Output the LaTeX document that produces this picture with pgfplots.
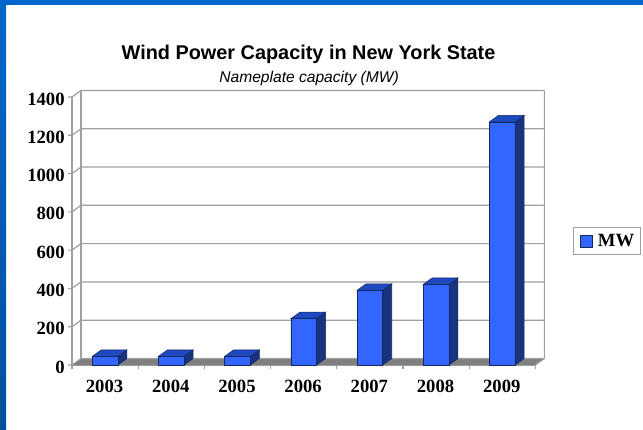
\documentclass[border=0pt]{standalone}
\usepackage{pgfplots}
\usepackage{pgfplotstable}
\usepackage{fontspec}
\setmainfont{Liberation Serif}
\newfontfamily\arialf{Liberation Sans}
\pgfplotsset{compat=1.18}
\definecolor{front}{HTML}{3366FF}
\definecolor{sidef}{HTML}{1A337F}
\definecolor{topf}{HTML}{1F49BF}
\definecolor{edgec}{HTML}{14285F}
\definecolor{wall}{HTML}{A0A0A0}
\definecolor{floorc}{HTML}{808080}
\definecolor{frametop}{HTML}{0066CC}
\definecolor{framebot}{HTML}{00509F}
\pgfplotstableread{
idx year mw
0 2003 45
1 2004 45
2 2005 45
3 2006 242
4 2007 390
5 2008 421
6 2009 1270
}\mwdata
% xl xr xld xrd v vd
\newcommand\faces[6]{%
  \addplot[forget plot,fill=sidef,draw=edgec,line width=.4pt] coordinates {(#2,0) (#2,#5) (#4,#6) (#4,34)} -- cycle;
  \addplot[forget plot,fill=topf,draw=edgec,line width=.4pt] coordinates {(#1,#5) (#3,#6) (#4,#6) (#2,#5)} -- cycle;
}
\begin{document}
\begin{tikzpicture}
\useasboundingbox (0,0) rectangle (482.25pt,321.75pt);
\fill[white] (0,0) rectangle (482.25pt,321.75pt);
\fill[frametop] (0,318pt) rectangle (482.25pt,321.75pt);
\shade[top color=frametop,bottom color=framebot] (0,0) rectangle (4.5pt,321.75pt);
\begin{axis}[
  at={(54pt,48pt)},anchor=south west,
  scale only axis,width=347.55pt,height=201pt,
  xmin=-0.5,xmax=6.5,ymin=0,ymax=1400,
  clip=false,
  axis x line*=bottom,axis y line*=left,
  axis line style={wall,line width=.9pt,-},
  tick align=outside,
  xtick={0,1,2,3,4,5,6},
  xticklabels={2003,2004,2005,2006,2007,2008,2009},
  minor xtick={-0.5,0.5,1.5,2.5,3.5,4.5,5.5,6.5},
  major tick length=0pt,
  minor tick length=3pt,
  ytick={0,200,400,600,800,1000,1200,1400},
  ytick style={draw=none},
  minor tick style={wall,line width=.8pt},
  /pgf/number format/assume math mode=true,
  /pgf/number format/1000 sep={},
  tick label style={font=\fontsize{14}{14}\selectfont\bfseries},
  xticklabel style={yshift=-7.5pt,xshift=-.4pt},
  yticklabel style={xshift=-2pt,yshift=-1.5pt},
  legend style={at={(1.0805,0.4627)},anchor=west,draw=wall,line width=.9pt,
    font=\fontsize{14}{14}\selectfont\bfseries,inner xsep=2.5pt,inner ysep=2.5pt},
  legend image code/.code={\path[draw=none,fill=none] (0pt,0pt) rectangle (14pt,0pt);\draw[fill=front,draw=edgec,line width=.4pt] (2.5pt,-4.5pt) rectangle (11.5pt,4.5pt);},
]
% floor
\fill[floorc] (axis cs:-0.5,0) -- (axis cs:-0.364,34) -- (axis cs:6.636,34) -- (axis cs:6.5,0) -- cycle;
% walls and gridlines
\draw[wall,line width=.9pt] (axis cs:-0.364,34) -- (axis cs:-0.364,1434);
\draw[wall,line width=.9pt] (axis cs:6.5,0) -- (axis cs:6.636,34) -- (axis cs:6.636,1434);
\draw[wall,line width=.9pt] (axis cs:-0.5,0) -- (axis cs:-0.5,1400);
\pgfplotsinvokeforeach{0,200,400,600,800,1000,1200,1400}{
  \draw[wall,line width=.9pt] (axis cs:-0.56,#1) -- (axis cs:-0.5,#1) -- (axis cs:-0.364,#1+34) -- (axis cs:6.636,#1+34);
}
\faces{-0.194}{0.194}{-0.058}{0.33}{45}{79}
\faces{0.806}{1.194}{0.942}{1.33}{45}{79}
\faces{1.806}{2.194}{1.942}{2.33}{45}{79}
\faces{2.806}{3.194}{2.942}{3.33}{242}{276}
\faces{3.806}{4.194}{3.942}{4.33}{390}{424}
\faces{4.806}{5.194}{4.942}{5.33}{421}{455}
\faces{5.806}{6.194}{5.942}{6.33}{1270}{1304}
\addplot[ybar,bar width=19.3pt,bar shift=0pt,fill=front,draw=edgec,line width=.4pt]
  table[x=idx,y=mw]{\mwdata};
\addlegendentry{MW}
\end{axis}
\node[font=\arialf\fontsize{14.9}{14.9}\selectfont\bfseries] at (231.4pt,281pt) {Wind Power Capacity in New York State};
\node[font=\arialf\fontsize{11.7}{11.7}\selectfont\itshape] at (231.8pt,263pt) {Nameplate capacity (MW)};
\end{tikzpicture}
\end{document}
